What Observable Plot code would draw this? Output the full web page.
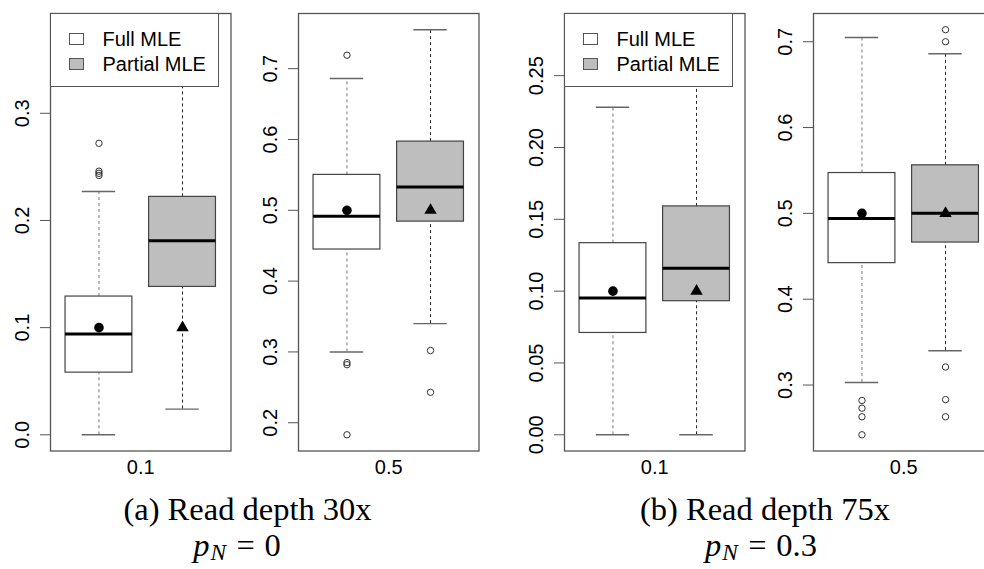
<!DOCTYPE html>
<html>
<head>
<meta charset="utf-8">
<script src="https://cdn.jsdelivr.net/npm/d3@7"></script>
<script src="https://cdn.jsdelivr.net/npm/@observablehq/plot@0.6"></script>
<style>
  body { margin: 0; background: #fff; }
  #wrap { position: relative; width: 984px; height: 569px; overflow: hidden; background: #fff; }
  .panel { position: absolute; top: 0; }
  .panel svg { max-width: none !important; display: block; }
  .legend { position: absolute; border: 1px solid #555; background: #fff; box-sizing: border-box;
            font-family: "Liberation Sans", Arial, sans-serif; font-size: 20px; color: #000; }
  .legend .sw { position: absolute; width: 15px; height: 12px; border: 1px solid #555; box-sizing: border-box; }
  .legend .lt { position: absolute; line-height: 20px; white-space: nowrap; }
  .cap { position: absolute; font-family: "Liberation Serif", "Times New Roman", serif; font-size: 32.5px;
         line-height: 30px; white-space: nowrap; transform: translateX(-50%); color: #000; }
  .cap sub { font-size: 0.72em; vertical-align: -0.18em; line-height: 0; margin-left: 0.04em; }
  .cap .eq { margin: 0 0.3em 0 0.32em; }
</style>
</head>
<body>
<div id="wrap"></div>
<script>
// ---- data ----
const groups = ["Full MLE", "Partial MLE"];
const groupFill = ["#ffffff", "#bebebe"];
const panelLabels = ["0.1", "0.5", "0.1", "0.5"];
const captionTitles = ["(a) Read depth 30x", "(b) Read depth 75x"];
const captionPN = ["0", "0.3"];

// per panel: [Full, Partial]
const lowerWhisker = [[0.000, 0.024], [0.300, 0.340], [0.000, 0.000], [0.303, 0.340]];
const q1Values     = [[0.058, 0.138], [0.4446, 0.484], [0.0709, 0.093], [0.442, 0.466]];
const medians      = [[0.094, 0.181], [0.4915, 0.533], [0.0953, 0.116], [0.494, 0.500]];
const q3Values     = [[0.129, 0.222], [0.550, 0.597], [0.1334, 0.159], [0.547, 0.556]];
const upperWhisker = [[0.227, 0.378], [0.686, 0.755], [0.228, 0.282], [0.705, 0.686]];
const means        = [[0.1, 0.1], [0.5, 0.5], [0.1, 0.1], [0.5, 0.5]];
const outliers = [
  [[0.242, 0.244, 0.246, 0.272], []],
  [[0.183, 0.282, 0.285, 0.719], [0.243, 0.302]],
  [[], []],
  [[0.242, 0.263, 0.273, 0.282], [0.263, 0.283, 0.321, 0.700, 0.714]]
];
const yTicks = [
  [0, 0.1, 0.2, 0.3],
  [0.2, 0.3, 0.4, 0.5, 0.6, 0.7],
  [0, 0.05, 0.10, 0.15, 0.20, 0.25],
  [0.3, 0.4, 0.5, 0.6, 0.7]
];
const yTickLabels = [
  ["0.0", "0.1", "0.2", "0.3"],
  ["0.2", "0.3", "0.4", "0.5", "0.6", "0.7"],
  ["0.00", "0.05", "0.10", "0.15", "0.20", "0.25"],
  ["0.3", "0.4", "0.5", "0.6", "0.7"]
];
const hasLegend = [true, false, true, false];

// ---- layout ----
const frameLefts = [50, 297.5, 564, 813];
const mL = 50, frameW = 180.5, mR = 5.5, H = 480, mT = 13, mB = 29.5;
const W = mL + frameW + mR;
const wrap = document.getElementById("wrap");

for (let p = 0; p < 4; p++) {
  const boxes = groups.map((g, i) => ({
    pos: i + 1, lo: lowerWhisker[p][i], q1: q1Values[p][i], med: medians[p][i],
    q3: q3Values[p][i], hi: upperWhisker[p][i], mean: means[p][i],
    fill: groupFill[i], wcol: i === 0 ? "#777" : "#222"
  }));
  const outs = [];
  outliers[p].forEach((arr, i) => arr.forEach(v => outs.push({pos: i + 1, v})));
  const allVals = boxes.flatMap(b => [b.lo, b.hi]).concat(outs.map(o => o.v));
  const [mn, mx] = d3.extent(allVals);
  const ext = (mx - mn) * 0.04;

  const chart = Plot.plot({
    width: W, height: H,
    marginLeft: mL, marginRight: mR, marginTop: mT, marginBottom: mB,
    x: {domain: [0.42, 2.58], axis: null},
    y: {domain: [mn - ext, mx + ext], axis: null},
    color: {type: "identity"},
    style: {fontFamily: "'Liberation Sans', Arial, sans-serif", fontSize: "20px", background: "transparent", overflow: "visible"},
    marks: [
      Plot.ruleX(boxes, {x: "pos", y1: "q3", y2: "hi", stroke: "wcol", strokeDasharray: "3,3"}),
      Plot.ruleX(boxes, {x: "pos", y1: "lo", y2: "q1", stroke: "wcol", strokeDasharray: "3,3"}),
      Plot.ruleY(boxes, {y: "hi", x1: d => d.pos - 0.2, x2: d => d.pos + 0.2, stroke: "#666", strokeWidth: 1.4}),
      Plot.ruleY(boxes, {y: "lo", x1: d => d.pos - 0.2, x2: d => d.pos + 0.2, stroke: "#666", strokeWidth: 1.4}),
      Plot.rect(boxes, {x1: d => d.pos - 0.4, x2: d => d.pos + 0.4, y1: "q1", y2: "q3", fill: "fill", stroke: "#444", strokeWidth: 1.2}),
      Plot.ruleY(boxes, {y: "med", x1: d => d.pos - 0.4, x2: d => d.pos + 0.4, stroke: "#000", strokeWidth: 3}),
      Plot.dot(outs, {x: "pos", y: "v", r: 3.2, stroke: "#333", fill: "none", strokeWidth: 1}),
      Plot.dot(boxes.slice(0, 1), {x: "pos", y: "mean", symbol: "circle", r: 4.8, fill: "#000", stroke: "none"}),
      Plot.dot(boxes.slice(1, 2), {x: "pos", y: "mean", symbol: "triangle", r: 4.6, fill: "#000", stroke: "none"}),
      Plot.frame({stroke: "#555", strokeWidth: 1.3}),
      Plot.axisY(yTicks[p], {ticks: yTicks[p], tickSize: 10, tickFormat: () => "", stroke: "#555", label: null}),
      Plot.text(yTicks[p], {y: d => d, text: (d, i) => yTickLabels[p][i], frameAnchor: "left", dx: -27.5,
        rotate: -90, textAnchor: "middle", lineAnchor: "middle", fill: "#000"}),
      Plot.text([panelLabels[p]], {x: () => 1.5, text: d => d, frameAnchor: "bottom", dy: 16.5,
        lineAnchor: "middle", textAnchor: "middle", fill: "#000"})
    ]
  });
  const holder = document.createElement("div");
  holder.className = "panel";
  holder.style.left = (frameLefts[p] - mL) + "px";
  holder.style.width = W + "px";
  holder.style.height = H + "px";
  holder.appendChild(chart);
  wrap.appendChild(holder);

  if (hasLegend[p]) {
    const lg = document.createElement("div");
    lg.className = "legend";
    lg.style.left = (frameLefts[p] - 0.5) + "px";
    lg.style.top = "12.5px";
    lg.style.width = "169px";
    lg.style.height = "74px";
    groups.forEach((g, i) => {
      const sw = document.createElement("div");
      sw.className = "sw";
      sw.style.left = "18px";
      sw.style.top = (19 + 25 * i) + "px";
      sw.style.background = groupFill[i];
      lg.appendChild(sw);
      const t = document.createElement("div");
      t.className = "lt";
      t.style.left = "52px";
      t.style.top = (15.4 + 25 * i) + "px";
      t.textContent = g;
      lg.appendChild(t);
    });
    wrap.appendChild(lg);
  }
}

// captions
const capCenters = [247.5, 765];
const pnCenters = [237, 761];
captionTitles.forEach((t, i) => {
  const c1 = document.createElement("div");
  c1.className = "cap";
  c1.style.left = capCenters[i] + "px";
  c1.style.top = "494px";
  c1.textContent = t;
  wrap.appendChild(c1);
  const c2 = document.createElement("div");
  c2.className = "cap";
  c2.style.left = pnCenters[i] + "px";
  c2.style.top = "530px";
  c2.innerHTML = "<i>p</i><sub><i>N</i></sub><span class=\"eq\">=</span>" + captionPN[i];
  wrap.appendChild(c2);
});
</script>
</body>
</html>
